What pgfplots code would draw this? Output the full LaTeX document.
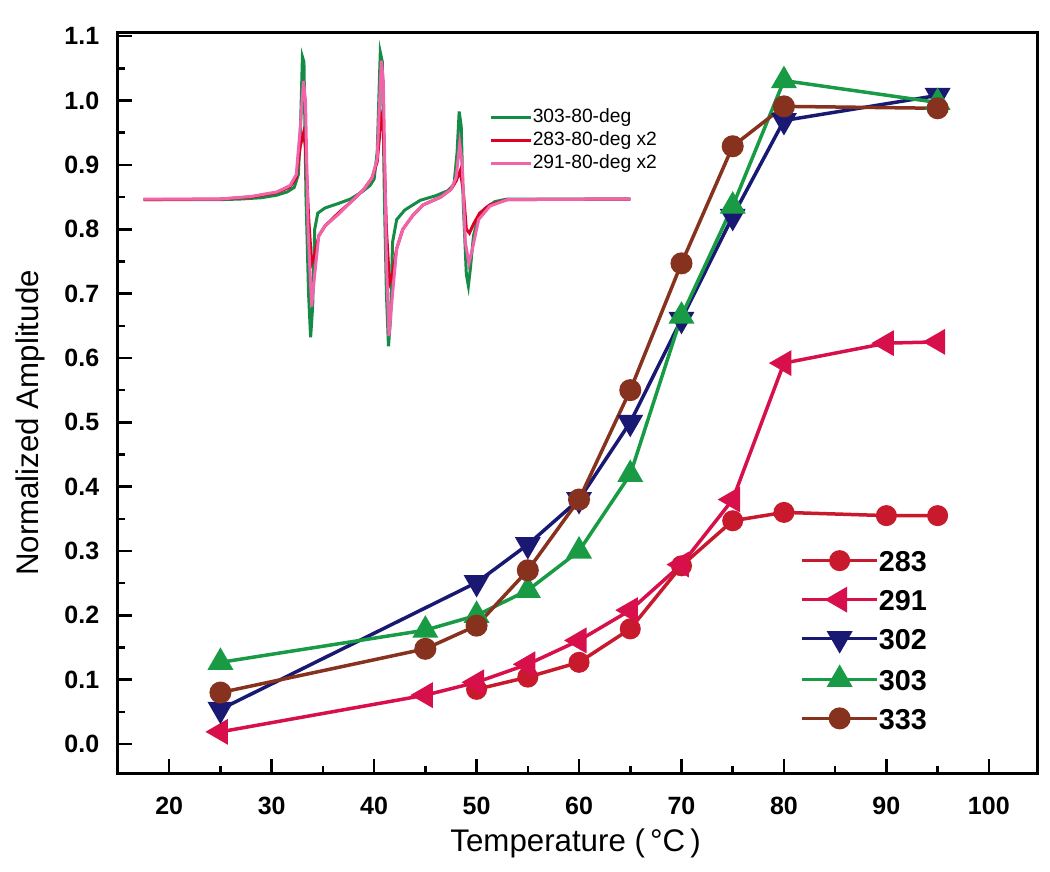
\documentclass[border=0pt]{standalone}
\usepackage{pgfplots}
\pgfplotsset{compat=1.18}
\usepackage{fontspec}
\setmainfont{Liberation Sans}
\definecolor{cgreen}{RGB}{25,155,70}
\definecolor{cred}{RGB}{200,25,45}
\definecolor{ccrimson}{RGB}{215,15,75}
\definecolor{cnavy}{RGB}{25,25,115}
\definecolor{cbrown}{RGB}{135,50,30}
\definecolor{sgreen}{RGB}{20,140,70}
\definecolor{sred}{RGB}{220,0,35}
\definecolor{spink}{RGB}{240,100,170}
\begin{document}
\begin{tikzpicture}
% ---------------- inset EPR spectra ----------------
\begin{axis}[
  scale only axis, width=367.6pt, height=296pt,
  xmin=15, xmax=104.7, ymin=-0.045, ymax=1.105,
  hide axis,
  legend style={at={(rel axis cs:0.404,0.898)}, anchor=north west, draw=none, fill=none,
    font=\fontsize{7.7}{8}\selectfont, inner sep=0pt, row sep=2.2pt,
    nodes={inner sep=0pt, text height=5.5pt, text depth=1.5pt}},
  legend image code/.code={\draw[line width=1.2pt] (0pt,0pt) -- (16pt,0pt);},
  legend cell align=left,
  /tikz/every even column/.append style={column sep=1.5pt},
]
\addplot[sgreen, line width=1.2pt] coordinates {
(17.5,0.846) (22,0.846) (25,0.846) (27,0.847) (29,0.849) (30.5,0.853) (31.5,0.858) (32.2,0.865)
(32.6,0.885) (32.8,0.95) (33.0,1.068) (33.15,1.06) (33.35,0.85) (33.6,0.70) (33.8,0.632) (34.0,0.68)
(34.2,0.80) (34.5,0.825) (35.2,0.833) (36.5,0.840) (37.7,0.847) (38.8,0.858) (39.6,0.868) (40.0,0.878)
(40.3,0.92) (40.6,1.075) (40.8,1.06) (41.0,0.85) (41.2,0.70) (41.4,0.618) (41.6,0.66) (41.8,0.78)
(42.2,0.815) (43.0,0.830) (44.5,0.845) (46.0,0.852) (47.2,0.860) (47.8,0.870) (48.1,0.92) (48.3,0.983)
(48.5,0.96) (48.7,0.84) (49.0,0.73) (49.2,0.712) (49.4,0.74) (49.7,0.79) (50.1,0.815) (50.8,0.832)
(51.8,0.843) (53,0.847) (58,0.847) (65,0.847)};
\addlegendentry{303-80-deg}
\addplot[sred, line width=1.2pt] coordinates {
(17.5,0.846) (25,0.847) (28,0.850) (30.5,0.857) (31.8,0.866) (32.4,0.880) (32.8,0.930) (33.1,0.949)
(33.3,0.93) (33.6,0.82) (33.9,0.747) (34.2,0.76) (34.6,0.790) (35.2,0.805) (36.5,0.825) (37.7,0.842)
(39.0,0.862) (39.8,0.880) (40.3,0.905) (40.7,0.975) (40.9,0.96) (41.2,0.80) (41.5,0.716) (41.8,0.73)
(42.2,0.77) (42.8,0.800) (43.8,0.822) (44.8,0.838) (46.5,0.850) (47.5,0.862) (48.0,0.875) (48.4,0.891)
(48.7,0.86) (49.0,0.80) (49.3,0.794) (49.7,0.808) (50.3,0.825) (51.3,0.838) (53,0.846) (65,0.847)};
\addlegendentry{283-80-deg x2}
\addplot[spink, line width=1.2pt] coordinates {
(17.5,0.847) (25,0.847) (28,0.851) (30.5,0.858) (31.8,0.868) (32.4,0.885) (32.8,0.960) (33.1,1.030)
(33.3,1.00) (33.55,0.80) (33.9,0.680) (34.2,0.73) (34.6,0.790) (35.2,0.805) (36.5,0.823) (37.7,0.842)
(39.0,0.862) (39.8,0.880) (40.3,0.91) (40.7,1.062) (40.9,1.03) (41.2,0.75) (41.45,0.634) (41.8,0.70)
(42.2,0.77) (42.8,0.800) (43.8,0.822) (44.8,0.838) (46.5,0.850) (47.5,0.862) (48.0,0.880) (48.35,0.933)
(48.6,0.90) (48.9,0.78) (49.25,0.747) (49.6,0.77) (50.2,0.815) (51.3,0.836) (53,0.846) (65,0.847)};
\addlegendentry{291-80-deg x2}
\end{axis}
% ---------------- main axis ----------------
\begin{axis}[
  scale only axis, width=367.6pt, height=296pt,
  xmin=15, xmax=104.7, ymin=-0.045, ymax=1.105,
  xtick={20,30,40,50,60,70,80,90,100},
  minor xtick={25,35,45,55,65,75,85,95},
  ytick={0,0.1,0.2,0.3,0.4,0.5,0.6,0.7,0.8,0.9,1.0,1.1},
  minor ytick={0.05,0.15,0.25,0.35,0.45,0.55,0.65,0.75,0.85,0.95,1.05},
  tick align=inside, tick pos=left,
  major tick length=5.6pt, minor tick length=2.8pt,
  every tick/.style={black, line width=1pt},
  axis line style={line width=1.2pt},
  /pgf/number format/assume math mode=true,
  yticklabel style={/pgf/number format/.cd, fixed, fixed zerofill, precision=1, /tikz/.cd,
    font=\bfseries\fontsize{10}{10}\selectfont, xshift=-4pt},
  xticklabel style={font=\bfseries\fontsize{10}{10}\selectfont, yshift=-6pt},
  xlabel={Temperature (\,°C\,)},
  ylabel={Normalized Amplitude},
  xlabel style={font=\fontsize{12.5}{14}\selectfont, at={(rel axis cs:0.498,-0.0946)}, anchor=center},
  ylabel style={font=\fontsize{12.5}{14}\selectfont, at={(rel axis cs:-0.0958,0.473)}, anchor=center},
  legend style={at={(rel axis cs:0.742,0.302)}, anchor=north west, draw=none, fill=none,
    font=\bfseries\fontsize{11.5}{12}\selectfont, inner sep=0pt, row sep=7.1pt,
    nodes={inner sep=0pt, text height=8.5pt, text depth=0pt}},
  legend image code/.code={\draw[mark repeat=2,mark phase=2] plot coordinates {(0pt,0pt) (15pt,0pt) (30pt,0pt)};},
  legend cell align=left,
  /tikz/every even column/.append style={column sep=2pt},
]
\addplot[cred, line width=1.4pt, mark=*, mark size=3.5pt, mark options={solid}] coordinates {
(50,0.085) (55,0.104) (60,0.127) (65,0.179) (70,0.277) (75,0.347) (80,0.360) (90,0.355) (95,0.355)};
\addlegendentry{283}
\addplot[ccrimson, line width=1.4pt, mark=triangle*, mark size=4.6pt, mark options={rotate=90}] coordinates {
(25,0.019) (45,0.076) (50,0.096) (55,0.124) (60,0.161) (65,0.208) (70,0.279) (75,0.380) (80,0.592) (90,0.623) (95,0.625)};
\addlegendentry{291}
\addplot[cnavy, line width=1.4pt, mark=triangle*, mark size=4.6pt, mark options={rotate=180}] coordinates {
(25,0.054) (50,0.251) (55,0.310) (60,0.380) (65,0.500) (70,0.660) (75,0.820) (80,0.969) (95,1.008)};
\addlegendentry{302}
\addplot[cgreen, line width=1.4pt, mark=triangle*, mark size=4.6pt] coordinates {
(25,0.127) (45,0.177) (50,0.200) (55,0.239) (60,0.300) (65,0.419) (70,0.665) (75,0.836) (80,1.031) (95,0.997)};
\addlegendentry{303}
\addplot[cbrown, line width=1.4pt, mark=*, mark size=3.7pt] coordinates {
(25,0.080) (45,0.148) (50,0.184) (55,0.270) (60,0.380) (65,0.550) (70,0.747) (75,0.929) (80,0.991) (95,0.988)};
\addlegendentry{333}
\end{axis}
\pgfresetboundingbox
\path (-47.2pt,-39.2pt) rectangle (372.8pt,309.2pt);
\end{tikzpicture}
\end{document}
